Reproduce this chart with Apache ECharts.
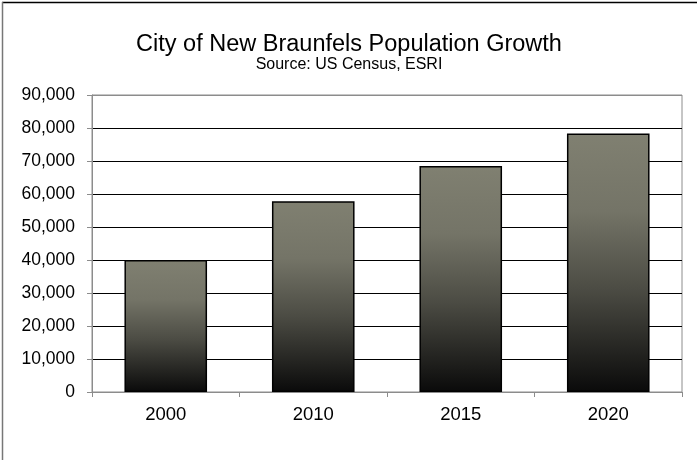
<!DOCTYPE html>
<html>
<head>
<meta charset="utf-8">
<title>City of New Braunfels Population Growth</title>
<script src="https://cdn.jsdelivr.net/npm/echarts@6/dist/echarts.min.js"></script>
<style>
  html, body { margin: 0; padding: 0; background: #fff; }
  #chart { width: 698px; height: 460px; }
</style>
</head>
<body>
<div id="chart"></div>
<script>
// population by census year
const years = ['2000', '2010', '2015', '2020'];
const population = [40000, 57800, 68500, 78300];
const yTicks = { min: 0, max: 90000, interval: 10000 };

const FONT = '"Liberation Sans", Arial, sans-serif';

const chart = echarts.init(document.getElementById('chart'), null, { renderer: 'canvas' });

// top split line doubles as the grey plot border, the rest are black
const splitColors = ['#8c8c8c', '#000', '#000', '#000', '#000', '#000', '#000', '#000', '#000', '#8c8c8c'];

chart.setOption({
  backgroundColor: '#fff',
  animation: false,
  title: [
    {
      text: 'City of New Braunfels Population Growth',
      left: 'center', top: 33, padding: 0,
      textStyle: { fontFamily: FONT, fontSize: 23.5, fontWeight: 'normal', color: '#000' },
    },
    {
      text: 'Source: US Census, ESRI',
      left: 'center', top: 57, padding: 0,
      textStyle: { fontFamily: FONT, fontSize: 16, fontWeight: 'normal', color: '#000' },
    },
  ],
  grid: {
    left: 92, right: 16, top: 95, bottom: 68,
    show: true, borderColor: '#8c8c8c', borderWidth: 1, backgroundColor: '#fff',
  },
  xAxis: {
    type: 'category',
    data: years,
    axisLine: { lineStyle: { color: '#8c8c8c', width: 1 } },
    axisTick: { show: true, length: 5, lineStyle: { color: '#8c8c8c' } },
    axisLabel: { color: '#000', fontFamily: FONT, fontSize: 18.5, margin: 13 },
    splitLine: { show: false },
  },
  yAxis: {
    type: 'value',
    min: yTicks.min, max: yTicks.max, interval: yTicks.interval,
    axisLine: { show: true, lineStyle: { color: '#8c8c8c', width: 1 } },
    axisTick: { show: true, length: 5, lineStyle: { color: '#8c8c8c' } },
    axisLabel: {
      color: '#000', fontFamily: FONT, fontSize: 17.5, margin: 17,
      formatter: (v) => v.toLocaleString('en-US'),
    },
    splitLine: { show: true, lineStyle: { color: splitColors, width: 1 } },
  },
  series: [
    {
      type: 'bar',
      data: population,
      barWidth: '56%',
      itemStyle: {
        borderColor: '#000',
        borderWidth: 1.5,
        color: {
          type: 'linear', x: 0, y: 0, x2: 0, y2: 1,
          colorStops: [
            { offset: 0, color: '#808071' },
            { offset: 0.3, color: '#747467' },
            { offset: 0.6, color: '#4c4c44' },
            { offset: 1, color: '#0a0a0a' },
          ],
        },
      },
    },
  ],
  graphic: [
    // chart frame: dark line on top, grey on the left
    { type: 'line', shape: { x1: 2, y1: 2.5, x2: 697, y2: 2.5 }, style: { stroke: '#000', lineWidth: 1.5 }, silent: true },
    { type: 'line', shape: { x1: 2.5, y1: 2, x2: 2.5, y2: 460 }, style: { stroke: '#777', lineWidth: 1.5 }, silent: true },
  ],
});
</script>
</body>
</html>
